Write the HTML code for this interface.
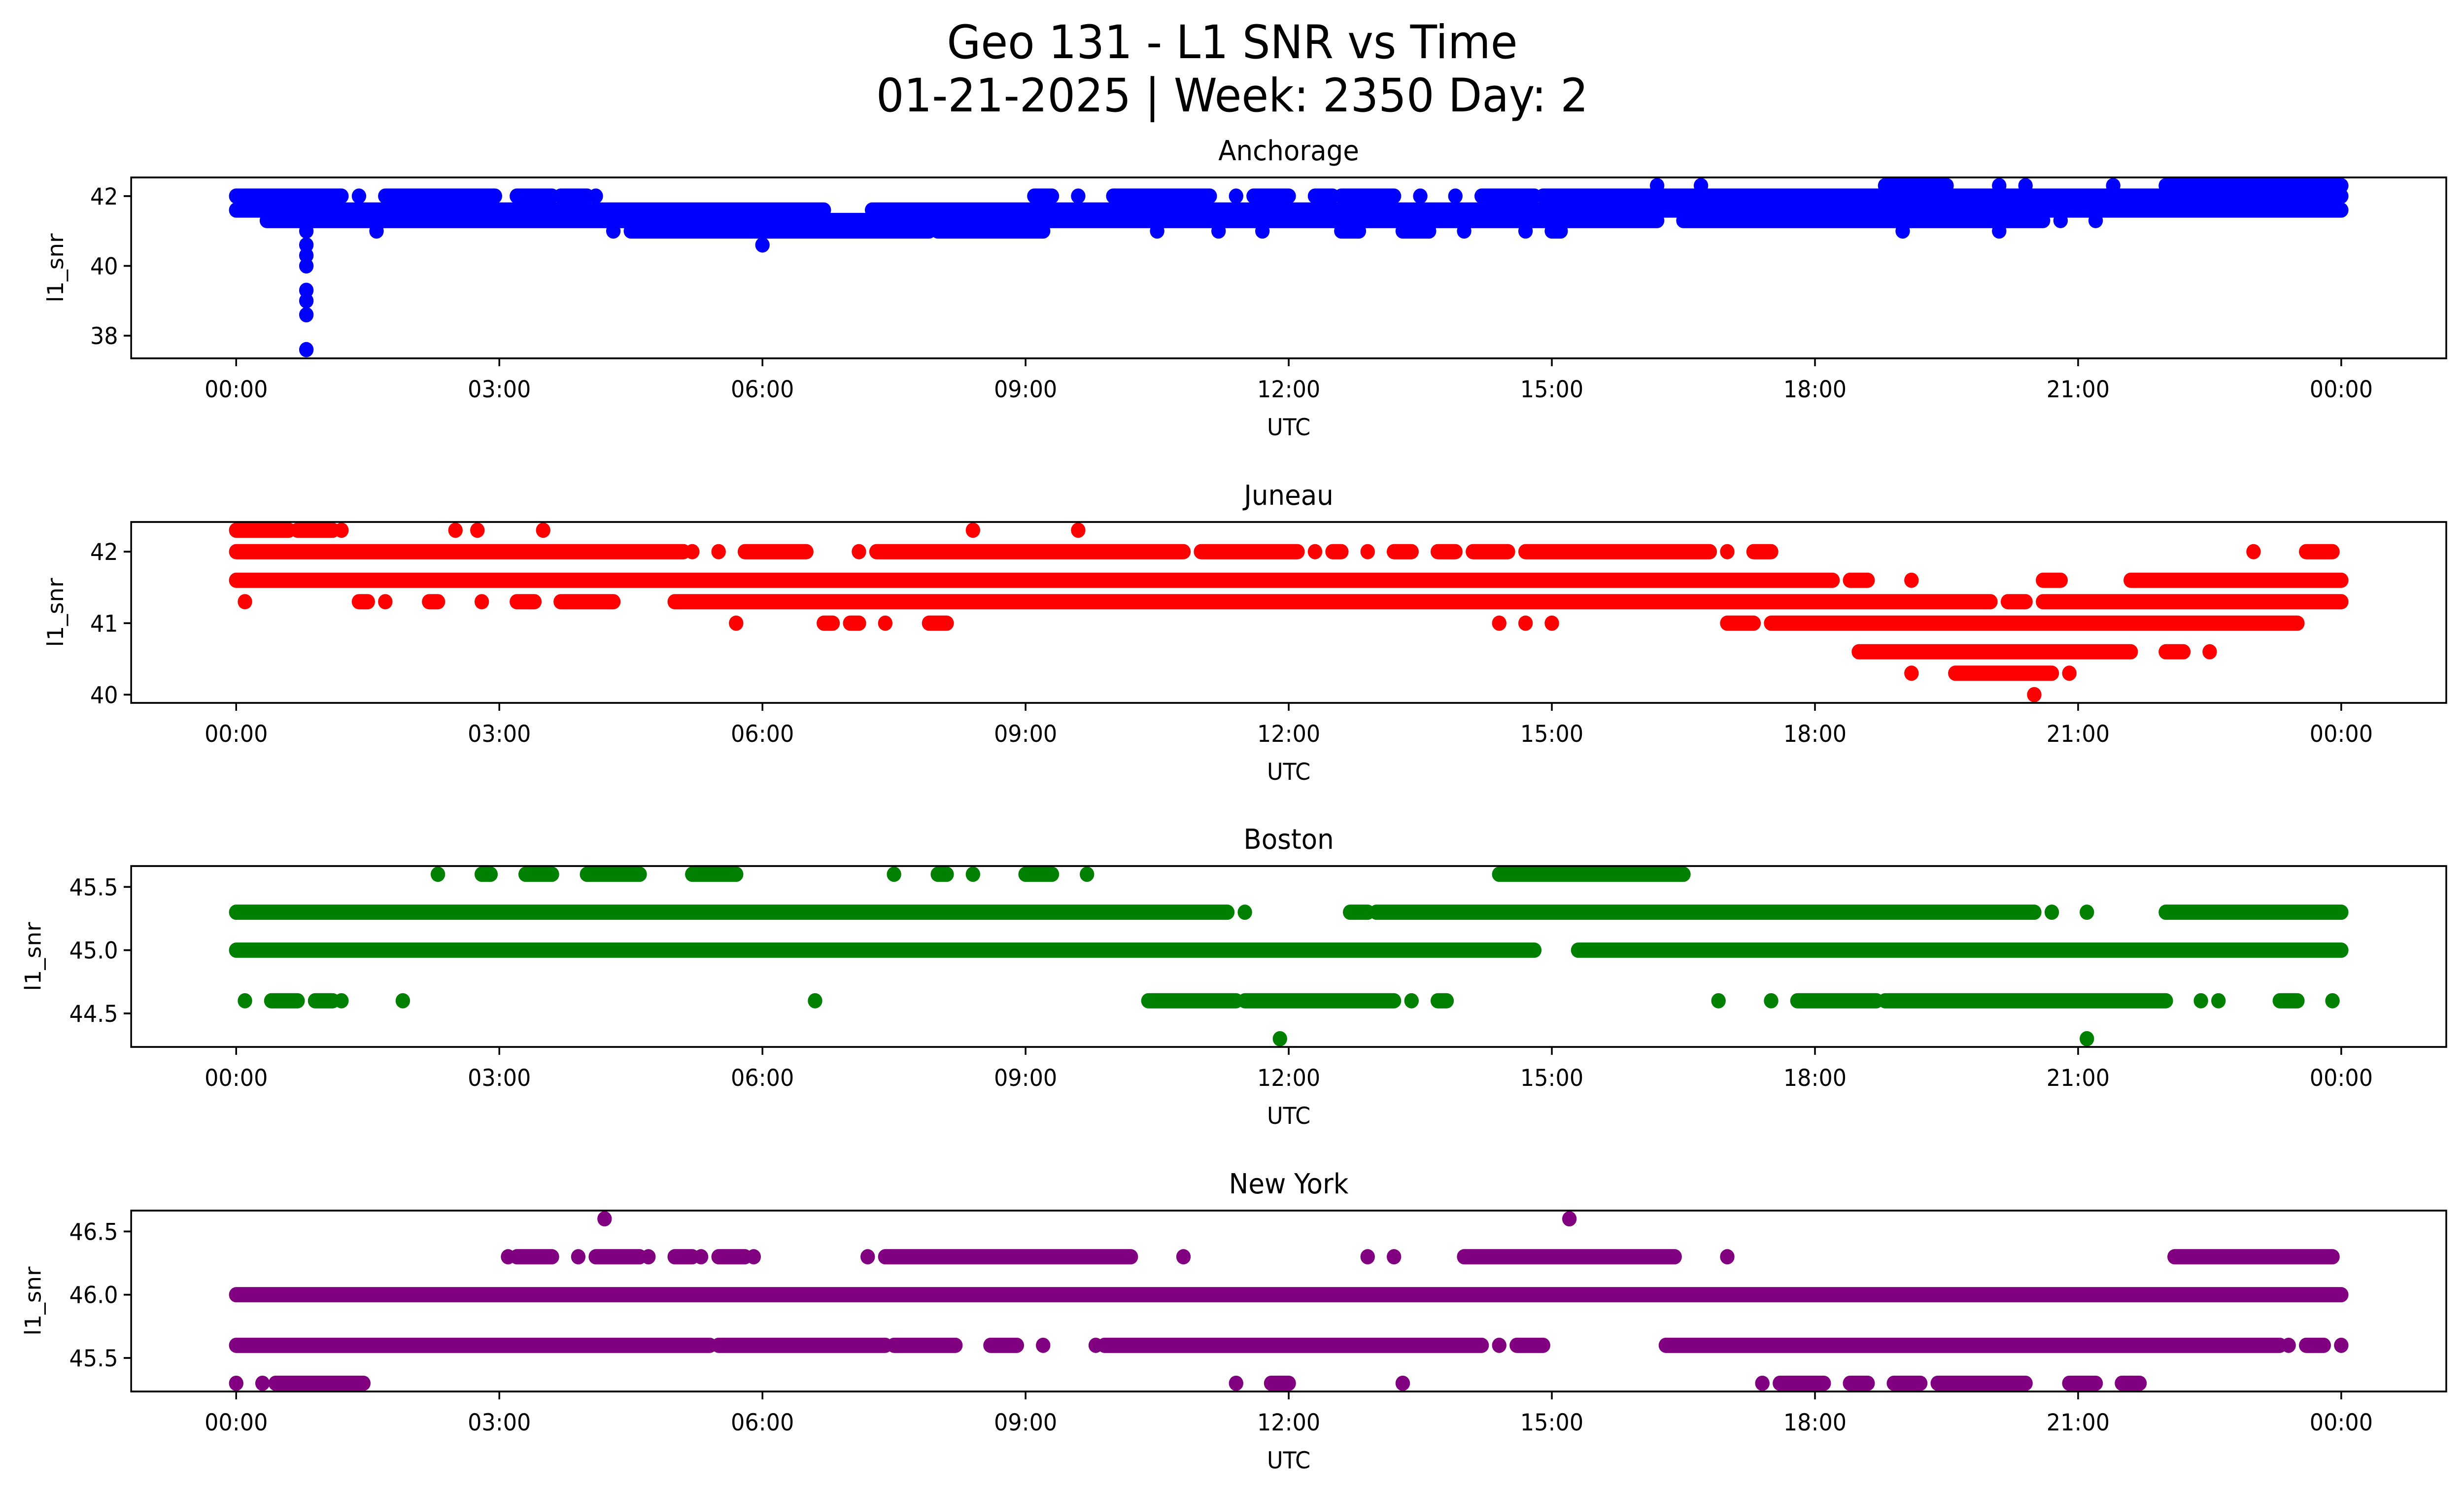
<!DOCTYPE html>
<html><head><meta charset="utf-8"><style>
html,body{margin:0;padding:0;background:#fff;width:100%;height:100%;overflow:hidden}
svg{display:block;width:100vw;height:100vh}
text{font-family:"DejaVu Sans","Liberation Sans",sans-serif;fill:#000}
</style></head><body>
<svg id="fig" viewBox="0 0 5279 3033" preserveAspectRatio="none" xmlns="http://www.w3.org/2000/svg">
<rect width="5279" height="3033" fill="#fff"/>
<text x="2640" y="118" font-size="94" text-anchor="middle">Geo 131 - L1 SNR vs Time</text>
<text x="2640" y="226" font-size="94" text-anchor="middle">01-21-2025 | Week: 2350 Day: 2</text>
<g id="plots"></g>
</svg>
<script>
// x ticks (hours)
const xTickHours = [0,3,6,9,12,15,18,21,24];
const xTickLabels = ["00:00","03:00","06:00","09:00","12:00","15:00","18:00","21:00","00:00"];
const stationNames = ["Anchorage","Juneau","Boston","New York"];
const stationColors = ["#0000ff","#ff0000","#008000","#800080"];

const anchLevels = [42.3,42.0,41.6,41.3,41.0,40.6,40.3,40.0,39.3,39.0,38.6,37.6];
const anchSegs = [
 [[16.2,16.2],[16.7,16.7],[18.8,19.5],[20.1,20.1],[20.4,20.4],[21.4,21.4],[22.0,24]],
 [[0,1.2],[1.4,1.4],[1.7,2.95],[3.2,3.6],[3.7,4.0],[4.1,4.1],[9.1,9.3],[9.6,9.6],[10.0,11.1],[11.4,11.4],[11.6,12.0],[12.3,12.5],[12.6,13.2],[13.5,13.5],[13.9,13.9],[14.2,14.8],[14.9,24]],
 [[0,6.7],[7.25,24]],
 [[0.35,16.2],[16.5,20.6],[20.8,20.8],[21.2,21.2]],
 [[0.8,0.8],[1.6,1.6],[4.3,4.3],[4.5,7.9],[8.0,9.2],[10.5,10.5],[11.2,11.2],[11.7,11.7],[12.6,12.8],[13.3,13.6],[14.0,14.0],[14.7,14.7],[15.0,15.1],[19.0,19.0],[20.1,20.1]],
 [[0.8,0.8],[6.0,6.0]],
 [[0.8,0.8]],[[0.8,0.8]],[[0.8,0.8]],[[0.8,0.8]],[[0.8,0.8]],[[0.8,0.8]]
];

const junLevels = [42.3,42.0,41.6,41.3,41.0,40.6,40.3,40.0];
const junSegs = [
 [[0,0.6],[0.7,1.1],[1.2,1.2],[2.5,2.5],[2.75,2.75],[3.5,3.5],[8.4,8.4],[9.6,9.6]],
 [[0,5.1],[5.2,5.2],[5.5,5.5],[5.8,6.5],[7.1,7.1],[7.3,10.8],[11.0,12.1],[12.3,12.3],[12.5,12.6],[12.9,12.9],[13.2,13.4],[13.7,13.9],[14.1,14.5],[14.7,16.8],[17.0,17.0],[17.3,17.5],[23.0,23.0],[23.6,23.9]],
 [[0,18.2],[18.4,18.6],[19.1,19.1],[20.6,20.8],[21.6,24]],
 [[0.1,0.1],[1.4,1.5],[1.7,1.7],[2.2,2.3],[2.8,2.8],[3.2,3.4],[3.7,4.3],[5.0,20.0],[20.2,20.4],[20.6,24]],
 [[5.7,5.7],[6.7,6.8],[7.0,7.1],[7.4,7.4],[7.9,8.1],[14.4,14.4],[14.7,14.7],[15.0,15.0],[17.0,17.3],[17.5,23.5]],
 [[18.5,21.6],[22.0,22.2],[22.5,22.5]],
 [[19.1,19.1],[19.6,20.7],[20.9,20.9]],
 [[20.5,20.5]]
];

const bosLevels = [45.6,45.3,45.0,44.6,44.3];
const bosSegs = [
 [[2.3,2.3],[2.8,2.9],[3.3,3.6],[4.0,4.6],[5.2,5.7],[7.5,7.5],[8.0,8.1],[8.4,8.4],[9.0,9.3],[9.7,9.7],[14.4,16.5]],
 [[0,11.3],[11.5,11.5],[12.7,12.9],[13.0,20.5],[20.7,20.7],[21.1,21.1],[22.0,24]],
 [[0,14.8],[15.3,24]],
 [[0.1,0.1],[0.4,0.7],[0.9,1.1],[1.2,1.2],[1.9,1.9],[6.6,6.6],[10.4,11.4],[11.5,13.2],[13.4,13.4],[13.7,13.8],[16.9,16.9],[17.5,17.5],[17.8,18.7],[18.8,22.0],[22.4,22.4],[22.6,22.6],[23.3,23.5],[23.9,23.9]],
 [[11.9,11.9],[21.1,21.1]]
];

const nyLevels = [46.6,46.3,46.0,45.6,45.3];
const nySegs = [
 [[4.2,4.2],[15.2,15.2]],
 [[3.1,3.1],[3.2,3.6],[3.9,3.9],[4.1,4.6],[4.7,4.7],[5.0,5.2],[5.3,5.3],[5.5,5.8],[5.9,5.9],[7.2,7.2],[7.4,10.2],[10.8,10.8],[12.9,12.9],[13.2,13.2],[14.0,16.4],[17.0,17.0],[22.1,23.9]],
 [[0,24]],
 [[0,5.4],[5.5,7.4],[7.5,8.2],[8.6,8.9],[9.2,9.2],[9.8,9.8],[9.9,14.2],[14.4,14.4],[14.6,14.9],[16.3,23.3],[23.4,23.4],[23.6,23.8],[24,24]],
 [[0,0],[0.3,0.3],[0.45,1.45],[11.4,11.4],[11.8,12.0],[13.3,13.3],[17.4,17.4],[17.6,18.1],[18.4,18.6],[18.9,19.2],[19.4,20.4],[20.9,21.2],[21.5,21.7]]
];

const yTickValues = [[38,40,42],[40,41,42],[44.5,45.0,45.5],[45.5,46.0,46.5]];
const yTickLabels = [["38","40","42"],["40","41","42"],["44.5","45.0","45.5"],["45.5","46.0","46.5"]];
const yLimits = [[37.35,42.535],[39.885,42.415],[44.235,45.665],[45.235,46.665]];

const allLevels = [anchLevels,junLevels,bosLevels,nyLevels];
const allSegs = [anchSegs,junSegs,bosSegs,nySegs];

const NS = "http://www.w3.org/2000/svg";
const AX_L = 281, AX_R = 5241, AX_H = 367;
const axTops = [360,1059,1757,2456];
const X0 = 506, XSPAN = 4510;
function xScale(h){ return X0 + h*XSPAN/24; }
function mk(tag, attrs, parent){ const e=document.createElementNS(NS,tag); for(const k in attrs) e.setAttribute(k,attrs[k]); parent.appendChild(e); return e; }
const root = document.getElementById('plots');

for(let i=0;i<4;i++){
  const top = axTops[i], bot = top+AX_H;
  const [ymin,ymax] = yLimits[i];
  const yScale = v => bot - (v-ymin)/(ymax-ymin)*AX_H;
  const g = mk('g',{},root);
  
  
  const cp = mk('clipPath',{id:'cp'+i},g);
  mk('rect',{x:AX_L,y:top,width:AX_R-AX_L,height:AX_H},cp);
  const marks = mk('g',{'clip-path':'url(#cp'+i+')'},g);
  
  
  const lv = allLevels[i], sg = allSegs[i];
  for(let j=0;j<lv.length;j++){
    const y = yScale(lv[j]);
    for(const s of sg[j]){
      const ln = mk('line',{x1:xScale(s[0]),x2:xScale(s[1]),y1:y,y2:y,stroke:stationColors[i],'stroke-width':31,'stroke-linecap':'round'},marks);
      
      
    }
  }
  const frame = mk('rect',{x:AX_L,y:top,width:AX_R-AX_L,height:AX_H,fill:'none',stroke:'#000','stroke-width':3.7},g);
  
  
  for(let k=0;k<xTickHours.length;k++){
    const x = xScale(xTickHours[k]);
    mk('line',{x1:x,x2:x,y1:bot,y2:bot+16,stroke:'#000','stroke-width':3.7},g);
    const t = mk('text',{x:x,y:bot+79,'font-size':47,'text-anchor':'middle'},g);
    t.textContent = xTickLabels[k];
    
    
  }
  for(let k=0;k<yTickValues[i].length;k++){
    const y = yScale(yTickValues[i][k]);
    mk('line',{x1:AX_L-16,x2:AX_L,y1:y,y2:y,stroke:'#000','stroke-width':3.7},g);
    const t = mk('text',{x:AX_L-28,y:y+17,'font-size':47,'text-anchor':'end'},g);
    t.textContent = yTickLabels[i][k];
    
    
  }
  const xl = mk('text',{x:(AX_L+AX_R)/2,y:bot+156,'font-size':47,'text-anchor':'middle'},g);
  xl.textContent = 'UTC';
  
  
  const yx = (i<2)?135:87, yc = top+AX_H/2;
  const yl = mk('text',{x:yx,y:yc,'font-size':47,'text-anchor':'middle',transform:'rotate(-90 '+yx+' '+yc+')'},g);
  yl.textContent = 'l1_snr';
  
  
  const tt = mk('text',{x:(AX_L+AX_R)/2,y:top-35,'font-size':56,'text-anchor':'middle'},g);
  tt.textContent = stationNames[i];
  
  
}
</script>
</body></html>
